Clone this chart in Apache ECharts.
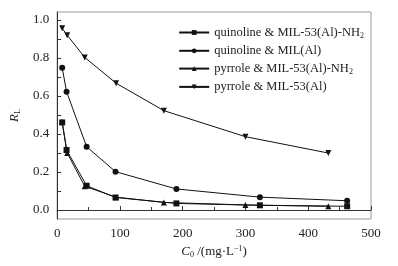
<!DOCTYPE html>
<html>
<head>
<meta charset="utf-8">
<script src="https://cdn.jsdelivr.net/npm/echarts@6/dist/echarts.min.js"></script>
<style>
  html, body { margin: 0; padding: 0; background: #fff; }
  #chart { width: 398px; height: 266px; }
</style>
</head>
<body>
<div id="chart"></div>
<script>
var names = ['quinoline & MIL-53(Al)-NH2', 'quinoline & MIL(Al)', 'pyrrole & MIL-53(Al)-NH2', 'pyrrole & MIL-53(Al)']
var symbols = ['rect', 'circle', 'triangle', 'path://M0,0 L10,0 L5,10 Z']

// C0 (mg/L) per series
var qNH2X = [8, 15, 47, 93, 190, 323, 462]
var qNH2Y = [0.461, 0.316, 0.128, 0.066, 0.035, 0.025, 0.020]
var qAlX = [8, 15, 47, 93, 190, 323, 462]
var qAlY = [0.749, 0.623, 0.333, 0.202, 0.111, 0.068, 0.049]
var pNH2X = [8, 16, 44, 94, 170, 300, 432]
var pNH2Y = [0.465, 0.300, 0.125, 0.068, 0.040, 0.027, 0.020]
var pAlX = [8, 16, 44, 94, 170, 300, 432]
var pAlY = [0.956, 0.920, 0.803, 0.667, 0.523, 0.386, 0.300]

var yTicks = [0, 0.2, 0.4, 0.6, 0.8, 1.0]
var yAllTicks = [0, 0.1, 0.2, 0.3, 0.4, 0.5, 0.6, 0.7, 0.8, 0.9, 1.0]

function pairs(xs, ys) {
  return xs.map(function (x, i) { return [x, ys[i]] })
}
var allData = [pairs(qNH2X, qNH2Y), pairs(qAlX, qAlY), pairs(pNH2X, pNH2Y), pairs(pAlX, pAlY)]

var font = 'Liberation Serif'
var myChart = echarts.init(document.getElementById('chart'))
var option = {
  animation: false,
  textStyle: { fontFamily: font },
  grid: {
    left: 55, right: 27, top: 12, bottom: 47,
    show: true, borderColor: '#999', borderWidth: 1
  },
  legend: {
    right: 29, top: 21,
    orient: 'vertical',
    itemWidth: 30, itemHeight: 6, itemGap: 4.8,
    data: names,
    textStyle: {
      fontFamily: font, fontSize: 12.5, color: '#222',
      rich: { sub: { fontSize: 8, verticalAlign: 'bottom', padding: [6, 0, 0, 0], fontFamily: font, color: '#222' } }
    },
    formatter: function (n) { return n.replace('NH2', 'NH{sub|2}') }
  },
  xAxis: {
    type: 'value', min: 0, max: 500, interval: 100,
    name: '{i|C}{sub|0} /(mg·L{sup|−1})',
    nameLocation: 'middle', nameGap: 22,
    nameTextStyle: {
      fontFamily: font, fontSize: 13, color: '#222',
      rich: {
        i: { fontStyle: 'italic', fontSize: 13, fontFamily: font, color: '#222' },
        sub: { fontSize: 8, padding: [7, 0, 0, 0], fontFamily: font, color: '#222' },
        sup: { fontSize: 8, padding: [0, 0, 6, 0], fontFamily: font, color: '#222' }
      }
    },
    axisLine: { lineStyle: { color: '#333' } },
    axisTick: { inside: true, length: 4, lineStyle: { color: '#333' } },
    minorTick: { show: true, splitNumber: 2, length: 3, lineStyle: { color: '#333' } },
    splitLine: { show: false },
    axisLabel: { fontFamily: font, fontSize: 13, color: '#222', margin: 8 }
  },
  yAxis: {
    type: 'value', min: -0.047, max: 1.042,
    name: '{i|R}{sub|L}',
    nameLocation: 'middle', nameGap: 24, nameRotate: 90,
    nameTextStyle: {
      fontFamily: font, fontSize: 13, color: '#222',
      rich: {
        i: { fontStyle: 'italic', fontSize: 13, fontFamily: font, color: '#222' },
        sub: { fontSize: 8, padding: [7, 0, 0, 0], fontFamily: font, color: '#222' }
      }
    },
    axisLine: { show: true, lineStyle: { color: '#333' } },
    axisTick: { inside: true, length: 4, customValues: yAllTicks, lineStyle: { color: '#333' } },
    splitLine: { show: false },
    axisLabel: {
      fontFamily: font, fontSize: 13, color: '#222', margin: 8,
      customValues: yTicks,
      formatter: function (v) { return v.toFixed(1) }
    }
  },
  series: names.map(function (n, i) {
    return {
      name: n, type: 'line', data: allData[i],
      symbol: symbols[i], symbolSize: 6,
      color: '#111',
      lineStyle: { width: 1, color: '#111' },
      itemStyle: { color: '#111' }
    }
  })
}
myChart.setOption(option)
</script>
</body>
</html>
